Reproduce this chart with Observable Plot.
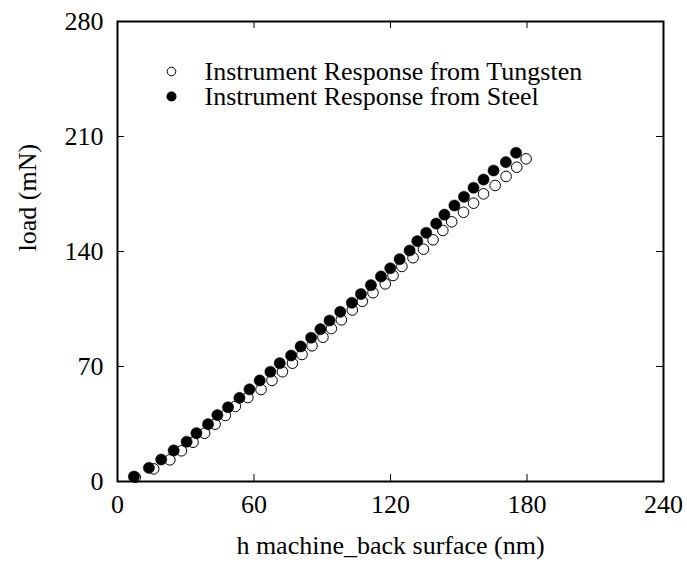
<!DOCTYPE html>
<html>
<head>
<meta charset="utf-8">
<script src="https://cdn.jsdelivr.net/npm/d3@7"></script>
<script src="https://cdn.jsdelivr.net/npm/@observablehq/plot@0.6"></script>
<style>
  html, body { margin: 0; padding: 0; background: #fff; }
  #chart svg { display: block; }
</style>
</head>
<body>
<div id="chart"></div>
<script>
// Instrument Response from Steel (filled)
const steelX = [7.2, 13.8, 19.2, 24.7, 30.4, 34.7, 39.8, 43.9, 48.6, 53.6, 58.0, 62.5, 67.2, 71.3, 76.3, 80.5, 85.1, 89.2, 93.2, 97.9, 103.0, 107.0, 111.4, 115.8, 119.9, 124.0, 128.4, 131.8, 135.7, 140.1, 143.7, 148.1, 152.3, 156.5, 160.9, 165.3, 170.7, 175.2];
const steelY = [3.0, 8.3, 13.4, 18.9, 24.2, 29.4, 34.9, 40.4, 45.2, 50.9, 56.1, 61.5, 66.8, 72.0, 76.7, 82.2, 87.5, 92.7, 98.0, 103.3, 108.8, 114.1, 119.5, 124.8, 129.8, 135.3, 140.6, 146.3, 151.4, 157.0, 162.4, 168.0, 173.3, 178.8, 183.8, 189.3, 194.4, 200.1];
// Instrument Response from Tungsten (open)
const tungX = [7.8, 15.9, 23.0, 28.1, 33.2, 38.3, 42.9, 47.4, 51.8, 57.3, 63.1, 67.9, 72.5, 76.9, 81.1, 85.5, 90.3, 94.0, 98.4, 103.2, 107.6, 112.3, 117.7, 121.1, 125.0, 129.9, 134.5, 138.7, 143.0, 146.9, 152.1, 156.5, 160.9, 166.0, 170.8, 175.5, 179.6];
const tungY = [2.6, 7.7, 13.2, 18.7, 23.9, 29.4, 34.9, 40.2, 45.7, 51.1, 56.0, 61.5, 66.8, 72.0, 77.3, 82.6, 87.8, 93.1, 98.4, 104.4, 109.7, 114.9, 120.3, 125.4, 130.9, 136.2, 141.4, 147.1, 152.8, 158.1, 163.9, 169.4, 175.1, 180.2, 185.7, 191.3, 196.4];

const xTicks = [0, 60, 120, 180, 240];
const yTicks = [0, 70, 140, 210, 280];
const seriesNames = ["Instrument Response from Tungsten", "Instrument Response from Steel"];
const xLabel = "h machine_back surface (nm)";
const yLabel = "load (mN)";

const steel = steelX.map((x, i) => ({x, y: steelY[i]}));
const tung = tungX.map((x, i) => ({x, y: tungY[i]}));

const W = 687, H = 565;
const mL = 117, mR = 24, mT = 21, mB = 84;
const fw = W - mL - mR, fh = H - mT - mB;
const tick = 7;
const fs = 26;

const chart = Plot.plot({
  width: W,
  height: H,
  marginLeft: mL,
  marginRight: mR,
  marginTop: mT,
  marginBottom: mB,
  style: {fontFamily: "'Liberation Serif', 'Times New Roman', serif", fontSize: fs + "px", color: "black", background: "white"},
  x: {domain: [0, 240], ticks: xTicks},
  y: {domain: [0, 280], ticks: yTicks},
  marks: [
    // inward ticks on all four sides
    Plot.gridX(xTicks, {stroke: "black", strokeOpacity: 1, strokeWidth: 1, insetTop: fh - tick}),
    Plot.gridX(xTicks, {stroke: "black", strokeOpacity: 1, strokeWidth: 1, insetBottom: fh - tick}),
    Plot.gridY(yTicks, {stroke: "black", strokeOpacity: 1, strokeWidth: 1, insetRight: fw - tick}),
    Plot.gridY(yTicks, {stroke: "black", strokeOpacity: 1, strokeWidth: 1, insetLeft: fw - tick}),
    Plot.axisX(xTicks, {tickSize: 0, tickPadding: 13, label: null, fontSize: fs}),
    Plot.axisY(yTicks, {tickSize: 0, tickPadding: 14, label: null, fontSize: fs}),
    Plot.text([xLabel], {frameAnchor: "bottom", dy: 64, text: d => d, lineAnchor: "middle", fontSize: fs}),
    Plot.text([yLabel], {frameAnchor: "left", dx: -90, rotate: -90, text: d => d, lineAnchor: "middle", fontSize: fs}),
    Plot.dot(tung, {x: "x", y: "y", r: 5.3, stroke: "black", fill: "white", strokeWidth: 1}),
    Plot.dot(steel, {x: "x", y: "y", r: 5.6, fill: "black", stroke: "black", strokeWidth: 0.5}),
    // legend
    Plot.dot([seriesNames[0]], {frameAnchor: "top-left", dx: 54, dy: 50, r: 4.3, stroke: "black", fill: "white", strokeWidth: 1}),
    Plot.dot([seriesNames[1]], {frameAnchor: "top-left", dx: 54, dy: 75, r: 5, fill: "black"}),
    Plot.text([seriesNames[0]], {frameAnchor: "top-left", dx: 87, dy: 50, text: d => d, textAnchor: "start", lineAnchor: "middle", fontSize: fs}),
    Plot.text([seriesNames[1]], {frameAnchor: "top-left", dx: 87, dy: 75, text: d => d, textAnchor: "start", lineAnchor: "middle", fontSize: fs}),
    Plot.frame({stroke: "black", strokeWidth: 2})
  ]
});
document.getElementById("chart").appendChild(chart);
</script>
</body>
</html>
